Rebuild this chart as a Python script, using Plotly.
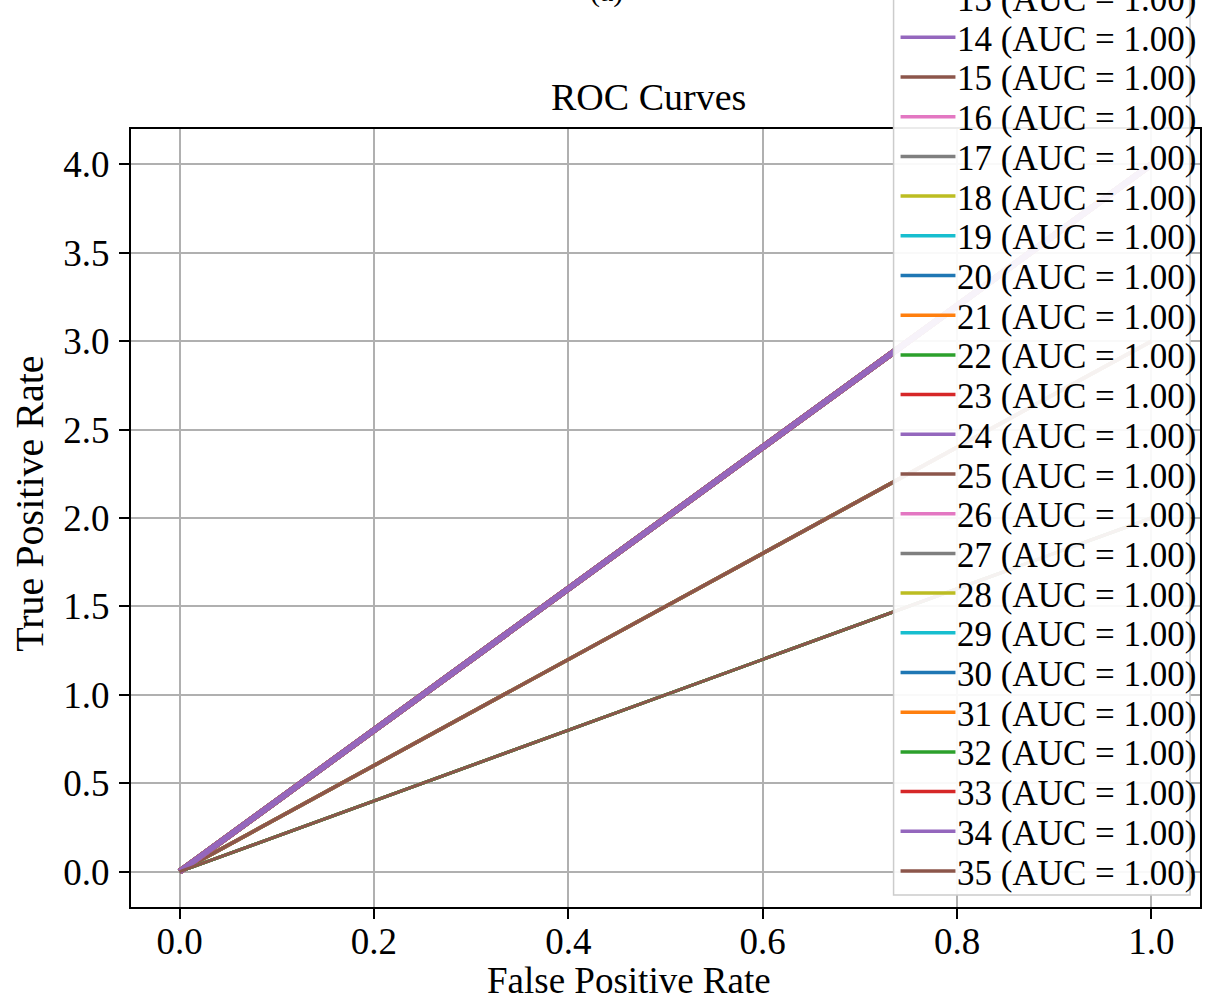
import plotly.graph_objects as go

# ---------------- data ----------------
class_ids = list(range(36))
fpr_points = [0.0, 1.0]
# end-point TPR of each class curve (three visible slopes 4, 3, 2)
tpr_end = [3.0, 3.0, 4.0, 2.0, 4.0, 3.0, 2.0, 4.0, 2.0, 3.0,
           4.0, 3.0, 2.0, 4.0, 4.0, 3.0, 2.0, 4.0, 2.0, 3.0,
           4.0, 3.0, 2.0, 4.0, 4.0, 3.0, 2.0, 4.0, 2.0, 4.0,
           2.0, 4.0, 2.0, 4.0, 4.0, 2.0]
auc_values = [1.00] * 36
legend_visible_from = 13          # legend is cropped at the top of the picture

x_ticks = [0.0, 0.2, 0.4, 0.6, 0.8, 1.0]
y_ticks = [0.0, 0.5, 1.0, 1.5, 2.0, 2.5, 3.0, 3.5, 4.0]

# ---------------- style ----------------
tab10 = ["#1f77b4", "#ff7f0e", "#2ca02c", "#d62728", "#9467bd",
         "#8c564b", "#e377c2", "#7f7f7f", "#bcbd22", "#17becf"]
width_by_end = {4.0: 6, 3.0: 3.5, 2.0: 3}
FONT = "Liberation Serif, Times New Roman, serif"

W, H = 1205, 1004
L, R, T, B = 131, 1202, 129, 907   # plot area in pixels


def px(xp):
    return (xp - L) / (R - L)


def py(yp):
    return (B - yp) / (B - T)


fig = go.Figure()
for c in class_ids:
    fig.add_trace(go.Scatter(
        x=fpr_points, y=[0.0, tpr_end[c]], mode="lines",
        line=dict(color=tab10[c % 10], width=width_by_end[tpr_end[c]]),
        name=f"{c} (AUC = {auc_values[c]:.2f})", showlegend=False,
        hoverinfo="skip"))

shapes = []
annotations = []

# legend box (semi-transparent, cropped at top)
shapes.append(dict(type="rect", xref="paper", yref="paper",
                   x0=px(895), x1=px(1192), y0=py(895), y1=py(-40),
                   fillcolor="rgba(255,255,255,0.92)",
                   line=dict(color="#cccccc", width=1.5), layer="above"))
row_gap = 39.7
last_row_y = 871
for c in class_ids[legend_visible_from:]:
    yrow = last_row_y - (class_ids[-1] - c) * row_gap
    shapes.append(dict(type="line", xref="paper", yref="paper",
                       x0=px(902), x1=px(957), y0=py(yrow), y1=py(yrow),
                       line=dict(color=tab10[c % 10], width=3.5), layer="above"))
    annotations.append(dict(xref="paper", yref="paper", x=px(957), y=py(yrow + 2),
                            xanchor="left", yanchor="middle", showarrow=False,
                            text=f"{c} (AUC = {auc_values[c]:.2f})",
                            font=dict(family=FONT, size=35, color="black")))

# titles
annotations.append(dict(xref="paper", yref="paper", x=px(649), y=py(120),
                        xanchor="center", yanchor="bottom", showarrow=False,
                        text="ROC Curves", font=dict(family=FONT, size=38, color="black")))
annotations.append(dict(xref="paper", yref="paper", x=px(630), y=py(1003),
                        xanchor="center", yanchor="bottom", showarrow=False,
                        text="False Positive Rate", font=dict(family=FONT, size=37, color="black")))
annotations.append(dict(xref="paper", yref="paper", x=px(4), y=py(504),
                        xanchor="left", yanchor="middle", showarrow=False, textangle=-90,
                        text="True Positive Rate", font=dict(family=FONT, size=40, color="black")))
annotations.append(dict(xref="paper", yref="paper", x=px(607), y=py(10),
                        xanchor="center", yanchor="bottom", showarrow=False,
                        text="(a)", font=dict(family=FONT, size=30, color="black")))

axis_common = dict(
    showgrid=True, gridcolor="#b0b0b0", gridwidth=1.6,
    showline=True, linecolor="black", linewidth=2, mirror=True,
    ticks="outside", ticklen=10, tickwidth=2, tickcolor="black",
    tickfont=dict(family=FONT, size=37, color="black"),
    zeroline=False, tickformat=".1f",
)

fig.update_layout(
    width=W, height=H,
    margin=dict(l=L, r=W - R, t=T, b=H - B, pad=0),
    paper_bgcolor="white", plot_bgcolor="white",
    showlegend=False,
    xaxis=dict(range=[-0.05, 1.05], tickmode="array", tickvals=x_ticks,
               ticklabelstandoff=-9, **axis_common),
    yaxis=dict(range=[-0.2, 4.2], tickmode="array", tickvals=y_ticks,
               ticklabelstandoff=2, **axis_common),
    shapes=shapes, annotations=annotations,
)

fig.write_html("out.html")
